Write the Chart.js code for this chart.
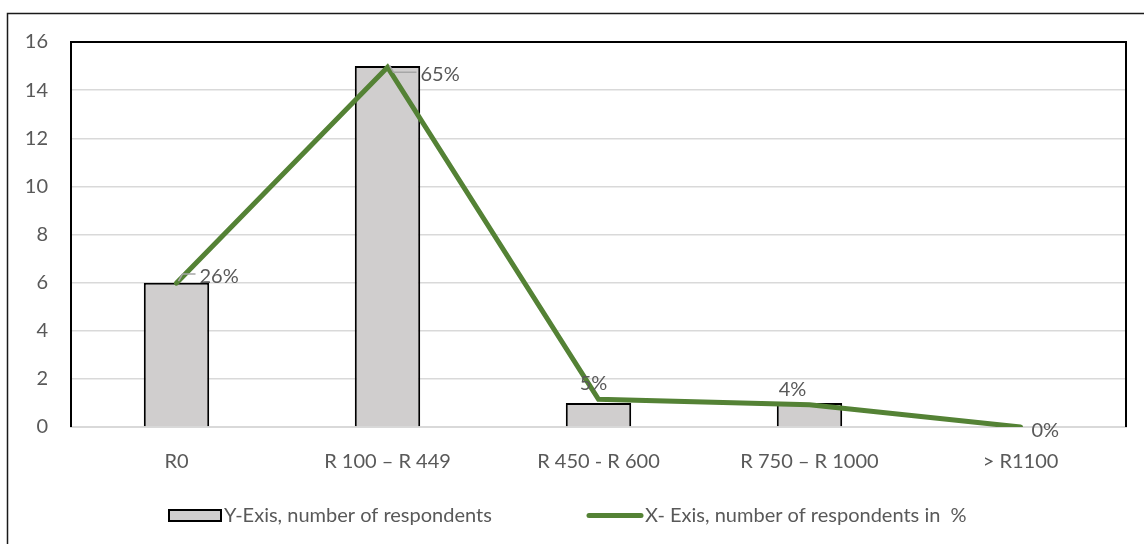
<!DOCTYPE html>
<html>
<head>
<meta charset="utf-8">
<script src="https://cdn.jsdelivr.net/npm/chart.js@4.4.1/dist/chart.umd.min.js"></script>
<style>
  html, body { margin: 0; padding: 0; background: #ffffff; }
  #wrap { position: relative; width: 1144px; height: 544px; }
</style>
</head>
<body>
<div id="wrap"><canvas id="chart" width="1144" height="544"></canvas></div>
<script>
// Monthly spend brackets
const categories = ['R0', 'R 100 – R 449', 'R 450 - R 600', 'R 750 – R 1000', '> R1100'];
// Number of respondents per bracket
const respondents = [6, 15, 1, 1, 0];
// Share of respondents per bracket, in percent
const respondentShare = [26, 65, 5, 4, 0];
const yTicks = [0, 2, 4, 6, 8, 10, 12, 14, 16];

const barLabel = 'Y-Exis, number of respondents';
const lineLabel = 'X- Exis, number of respondents in  %';

const FONT = 'Lato, "Open Sans", sans-serif';
const FONT_SIZE = 20;
const TEXT = '#595959';
const GREEN = '#548235';
const BAR_FILL = '#d0cece';
const GRID = '#d9d9d9';

const yMax = yTicks[yTicks.length - 1];
const total = respondents.reduce((a, b) => a + b, 0);
// percentage axis aligned so that 100% equals the total respondent count
const pctMax = yMax * 100 / total;

// per-label offsets from the point (dx, dy) and text alignment
const labelPlacement = [
  { dx: 23, dy: -7, align: 'left', leader: true },
  { dx: 33, dy: 7, align: 'left', leader: true },
  { dx: -5, dy: -16, align: 'center' },
  { dx: -17, dy: -15, align: 'center' },
  { dx: 11, dy: 4, align: 'left' }
];

const framePlugin = {
  id: 'frame',
  beforeDraw(chart) {
    const ctx = chart.ctx;
    ctx.save();
    ctx.fillStyle = '#ffffff';
    ctx.fillRect(0, 0, chart.width, chart.height);
    // outer chart border
    ctx.strokeStyle = '#1a1a1a';
    ctx.lineWidth = 1.5;
    ctx.beginPath();
    ctx.moveTo(7.5, chart.height);
    ctx.lineTo(7.5, 13.5);
    ctx.lineTo(chart.width, 13.5);
    ctx.stroke();
    ctx.restore();
  },
  afterDatasetsDraw(chart) {
    const { ctx, chartArea: a } = chart;
    ctx.save();
    ctx.strokeStyle = '#000000';
    ctx.lineWidth = 2;
    ctx.beginPath();
    ctx.moveTo(a.left, a.bottom);
    ctx.lineTo(a.left, a.top);
    ctx.lineTo(a.right, a.top);
    ctx.lineTo(a.right, a.bottom);
    ctx.stroke();
    ctx.restore();
  }
};

const shareLabelsPlugin = {
  id: 'shareLabels',
  afterDatasetsDraw(chart) {
    const ctx = chart.ctx;
    const meta = chart.getDatasetMeta(1);
    ctx.save();
    ctx.font = FONT_SIZE + 'px ' + FONT;
    ctx.fillStyle = TEXT;
    ctx.textBaseline = 'middle';
    meta.data.forEach((pt, i) => {
      const p = labelPlacement[i];
      const x = pt.x + p.dx;
      const y = pt.y + p.dy;
      if (p.leader) {
        ctx.strokeStyle = '#a6a6a6';
        ctx.lineWidth = 1.5;
        ctx.beginPath();
        ctx.moveTo(pt.x + 2, pt.y - 2);
        ctx.lineTo(pt.x + 6, y - 2);
        ctx.lineTo(x - 4, y - 2);
        ctx.stroke();
      }
      ctx.textAlign = p.align;
      ctx.fillText(respondentShare[i] + '%', x, y);
    });
    ctx.restore();
  }
};

const legendPlugin = {
  id: 'customLegend',
  afterDraw(chart) {
    const ctx = chart.ctx;
    const y = 515.5;
    ctx.save();
    ctx.font = FONT_SIZE + 'px ' + FONT;
    ctx.textBaseline = 'middle';
    ctx.textAlign = 'left';
    // bar series swatch
    ctx.fillStyle = BAR_FILL;
    ctx.fillRect(169, 510, 52, 11);
    ctx.strokeStyle = '#000000';
    ctx.lineWidth = 2;
    ctx.strokeRect(169, 510, 52, 11);
    ctx.fillStyle = TEXT;
    ctx.fillText(barLabel, 224, y);
    // line series swatch
    ctx.strokeStyle = GREEN;
    ctx.lineWidth = 5;
    ctx.lineCap = 'round';
    ctx.beginPath();
    ctx.moveTo(589, y);
    ctx.lineTo(641, y);
    ctx.stroke();
    ctx.fillText(lineLabel, 645, y);
    ctx.restore();
  }
};

new Chart(document.getElementById('chart'), {
  data: {
    labels: categories,
    datasets: [
      {
        type: 'bar',
        label: barLabel,
        data: respondents,
        backgroundColor: BAR_FILL,
        borderColor: '#000000',
        borderWidth: 2,
        borderSkipped: 'bottom',
        barPercentage: 0.31,
        categoryPercentage: 1,
        yAxisID: 'y',
        order: 2
      },
      {
        type: 'line',
        label: lineLabel,
        data: respondentShare,
        borderColor: GREEN,
        borderWidth: 5,
        pointRadius: 0,
        tension: 0,
        borderCapStyle: 'round',
        borderJoinStyle: 'miter',
        yAxisID: 'y2',
        order: 1
      }
    ]
  },
  options: {
    responsive: false,
    animation: false,
    devicePixelRatio: 1,
    layout: { padding: { top: 42, right: 18, left: 0, bottom: 60 } },
    plugins: {
      legend: { display: false },
      tooltip: { enabled: false }
    },
    scales: {
      x: {
        grid: { display: false, drawTicks: false },
        border: { display: true, color: GRID, width: 2 },
        ticks: { color: TEXT, font: { family: FONT, size: FONT_SIZE }, padding: 23, maxRotation: 0 },
        afterFit(s) { s.height = 544 - 60 - 427; }
      },
      y: {
        min: 0,
        max: yMax,
        afterBuildTicks(s) { s.ticks = yTicks.map(v => ({ value: v })); },
        grid: { color: GRID, lineWidth: 1.5, drawTicks: false },
        border: { display: false },
        ticks: { color: TEXT, font: { family: FONT, size: FONT_SIZE }, padding: 23 },
        afterFit(s) { s.width = 71; }
      },
      y2: {
        display: false,
        min: 0,
        max: pctMax
      }
    }
  },
  plugins: [framePlugin, shareLabelsPlugin, legendPlugin]
});
</script>
</body>
</html>
